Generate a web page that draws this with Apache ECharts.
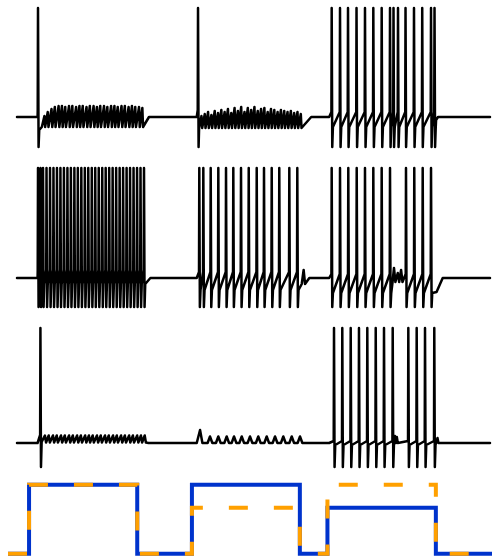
<!DOCTYPE html>
<html><head><meta charset="utf-8">
<script src="https://cdn.jsdelivr.net/npm/echarts@6/dist/echarts.min.js"></script>
<style>html,body{margin:0;padding:0;background:#fff}#chart{width:500px;height:560px}</style>
</head><body><div id="chart"></div>
<script>
// ---------- time (ms) ----------
const timeRange = [0, 1000];
const pulseOn  = [43.5, 380, 660];
const pulseOff = [267, 603, 884];

// ---------- injected current (pA) ----------
const currentBlue   = [300, 300, 200];
const currentOrange = [300, 200, 300];

// ---------- membrane voltage (mV) ----------
const spikePeak = 42;
const spikeTrough = -97;
const restV = [-67, -68, -73];

// panel 1
const p1Spikes = [
  [44.4],
  [382.7],
  [665.3, 682.9, 699.8, 717.8, 735.7, 753.3, 771.0, 788.6, 796.0, 805.5, 821.4, 839.3, 856.7, 875.3, 882.7]
];
const p1Osc = [
  [[58,-66],[65,-62],[73,-59],[80,-57],[88,-56],[95,-56],[102,-57],[110,-56],[117,-56],[125,-57],
   [132,-56],[139,-56],[147,-57],[154,-56],[162,-56],[169,-57],[176,-56],[184,-56],[191,-57],[199,-56],
   [206,-56],[213,-57],[221,-56],[228,-56],[236,-57],[243,-56],[250,-57],[258,-57],[265,-58]],
  [[390,-66],[397,-64],[404,-62],[411,-65],[418,-61],[425,-63],[432,-60],[439,-62],[446,-59],[453,-63],
   [460,-58],[467,-61],[474,-57],[481,-62],[488,-58],[495,-60],[502,-57],[509,-61],[516,-59],[523,-58],
   [530,-62],[537,-59],[544,-60],[551,-62],[558,-60],[565,-61],[572,-62],[579,-61],[586,-63],[593,-62],[600,-64]],
  []
];
const p1Thr = [-60, -60, -62];
const p1Ahp = [-80, -80, -77];
const p1OscLow = [-77, -78, -77];
const p1OscRise = [5.5, 5, 3];
const p1OscFall = [1.5, 1.5, 3];
const p1EndT = [268, 604, 886];
const p1EndV = [-77, -78, -70];
const p1RestT = [279, 622, 890];

// panel 2
const p2Spikes = [
  [44.4, 49.7, 55.0, 62.4, 69.8, 77.1, 84.5, 91.8, 99.2, 106.6, 113.9, 121.3, 128.6, 136.0, 143.4, 150.7,
   158.1, 165.4, 172.8, 180.2, 187.5, 194.9, 202.2, 209.6, 217.0, 224.3, 231.7, 239.0, 246.4, 253.8, 261.1, 268.5],
  [385.4, 393.9, 409.5, 425.6, 441.9, 457.3, 473.6, 489.9, 506.8, 522.2, 538.5, 554.5, 575.7, 592.6],
  [665.3, 682.9, 700.4, 718.2, 735.7, 753.3, 771.0, 788.6, 822.4, 839.9, 857.7, 875.3]
];
const p2Osc = [
  [],
  [[606,-60]],
  [[797,-58],[805,-63],[812,-60]]
];
const p2Thr = [-60, -62, -64];
const p2Ahp = [-74, -80, -83];
const p2OscLow = [-74, -74, -72];
const p2OscRise = [3, 4, 3];
const p2OscFall = [3, 3, 3];
const p2EndT = [272, 611, 887];
const p2EndV = [-75, -72, -82];
const p2RestT = [282, 618, 900];

// panel 3
const p3Spikes = [
  [49.5],
  [],
  [670.2, 687.7, 705.5, 723.0, 740.6, 758.4, 775.9, 794.3, 827.3, 845.0, 862.6, 882.2]
];
const p3Osc = [
  [[59,-65.5],[67,-65.5],[76,-65.5],[84,-65.5],[93,-65.5],[101,-65.5],[110,-65.5],[118,-65.5],[127,-65.5],
   [135,-65.5],[144,-65.5],[152,-65.5],[160,-65.5],[169,-65.5],[177,-65.5],[186,-65.5],[194,-65.5],[203,-65.5],
   [211,-65.5],[220,-65.5],[228,-65.5],[237,-65.5],[245,-65.5],[254,-65.5],[262,-65.5],[270,-65.5]],
  [[387,-60],[408,-66.5],[425.6,-66.5],[443.3,-66.5],[458.8,-66.5],[475.1,-66.5],[492.6,-66.5],[510.1,-66.5],
   [527.9,-66.5],[545.5,-66.5],[563,-66.5],[580.8,-66.5],[598.3,-66.5]],
  [[799,-66],[803,-67],[889,-68]]
];
const p3Thr = [-65, -66, -71];
const p3Ahp = [-72, -73, -75];
const p3OscLow = [-72.5, -73, -73];
const p3OscRise = [5, 5, 2];
const p3OscFall = [2.5, 5, 2];
const p3EndT = [273, 606, 895];
const p3EndV = [-72.5, -73, -73];
const p3RestT = [278, 607, 897];

// ---------- build series data ----------
function buildTrace(rest, spikes, osc, thr, ahp, lo, rise, fall, endT, endV, restT) {
  const pts = [[timeRange[0], rest]];
  for (let s = 0; s < pulseOn.length; s++) {
    const ev = [[pulseOn[s], rest]];
    spikes[s].forEach(t => ev.push([t - 0.6, thr[s]], [t, spikePeak], [t + 1.2, spikeTrough], [t + 2.6, ahp[s]]));
    osc[s].forEach(([t, hi]) => ev.push([t - rise[s], lo[s]], [t, hi], [t + fall[s], lo[s]]));
    ev.sort((a, b) => a[0] - b[0]);
    ev.push([endT[s], endV[s]], [restT[s], rest]);
    pts.push(...ev);
  }
  pts.push([timeRange[1], rest]);
  return pts;
}
function buildCurrent(amps) {
  const pts = [[timeRange[0], 0]];
  for (let s = 0; s < pulseOn.length; s++) {
    pts.push([pulseOn[s], 0], [pulseOn[s], amps[s]], [pulseOff[s], amps[s]], [pulseOff[s], 0]);
  }
  pts.push([timeRange[1], 0]);
  return pts;
}

const trace1 = buildTrace(restV[0], p1Spikes, p1Osc, p1Thr, p1Ahp, p1OscLow, p1OscRise, p1OscFall, p1EndT, p1EndV, p1RestT);
const trace2 = buildTrace(restV[1], p2Spikes, p2Osc, p2Thr, p2Ahp, p2OscLow, p2OscRise, p2OscFall, p2EndT, p2EndV, p2RestT);
const trace3 = buildTrace(restV[2], p3Spikes, p3Osc, p3Thr, p3Ahp, p3OscLow, p3OscRise, p3OscFall, p3EndT, p3EndV, p3RestT);

const grids = [
  {left: 17, right: 10, top: 0,   height: 150},
  {left: 17, right: 10, top: 160, height: 150},
  {left: 17, right: 10, top: 320, height: 150},
  {left: 8,  right: 8,  top: 470, height: 90}
];
const hidden = {show: false};
const chart = echarts.init(document.getElementById('chart'), null, {renderer: 'canvas'});
const vSeries = [trace1, trace2, trace3].map((d, i) => ({
  type: 'line', xAxisIndex: i, yAxisIndex: i, data: d, symbol: 'none', showSymbol: false,
  clip: false, silent: true, animation: false,
  lineStyle: {color: '#000000', width: 2.5, join: 'round', cap: 'round'}
}));
chart.setOption({
  animation: false,
  backgroundColor: '#ffffff',
  grid: grids.map(g => Object.assign({containLabel: false}, g)),
  xAxis: grids.map((g, i) => ({gridIndex: i, type: 'value', min: timeRange[0], max: timeRange[1],
    axisLine: hidden, axisTick: hidden, axisLabel: hidden, splitLine: hidden})),
  yAxis: [0, 1, 2].map(i => ({gridIndex: i, type: 'value', min: -100, max: 50,
    axisLine: hidden, axisTick: hidden, axisLabel: hidden, splitLine: hidden}))
    .concat([{gridIndex: 3, type: 'value', min: -27, max: 364,
    axisLine: hidden, axisTick: hidden, axisLabel: hidden, splitLine: hidden}]),
  series: vSeries.concat([
    {type: 'line', xAxisIndex: 3, yAxisIndex: 3, data: buildCurrent(currentBlue), symbol: 'none',
     clip: false, silent: true, z: 2,
     lineStyle: {color: '#0033cc', width: 4, join: 'miter', cap: 'butt'}},
    {type: 'line', xAxisIndex: 3, yAxisIndex: 3, data: buildCurrent(currentOrange), symbol: 'none',
     clip: false, silent: true, z: 3,
     lineStyle: {color: '#ffa000', width: 4, type: [19, 26], dashOffset: 0, join: 'miter', cap: 'butt'}}
  ])
});
</script>
</body></html>
